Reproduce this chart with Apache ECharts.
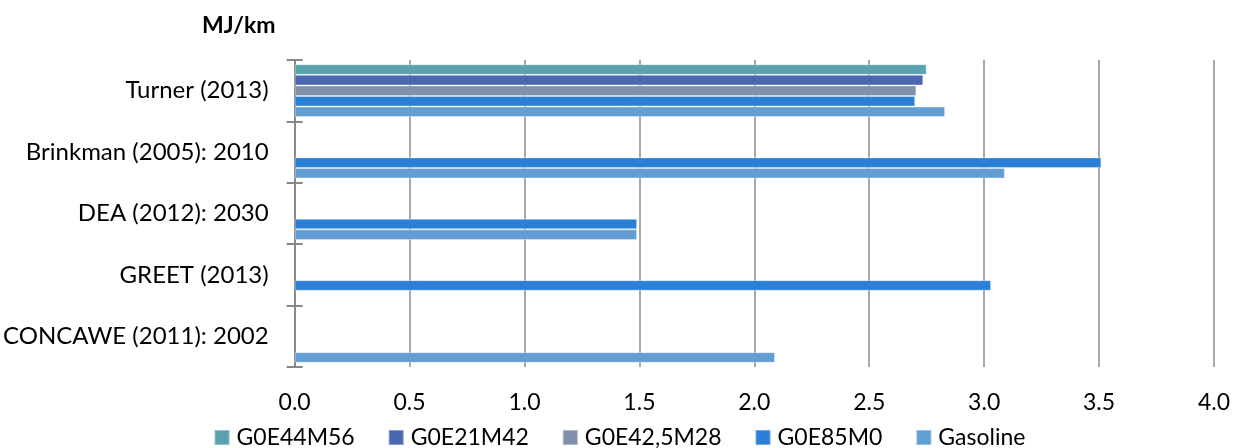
<!DOCTYPE html>
<html><head><meta charset="utf-8">
<script src="https://cdn.jsdelivr.net/npm/echarts@6/dist/echarts.min.js"></script>
<style>html,body{margin:0;padding:0;background:#fff}#c{width:1239px;height:448px}</style>
</head><body><div id="c"></div>
<script>
const categories = ['Turner (2013)', 'Brinkman (2005): 2010', 'DEA (2012): 2030', 'GREET (2013)', 'CONCAWE (2011): 2002'];
const seriesNames = ['G0E44M56', 'G0E21M42', 'G0E42,5M28', 'G0E85M0', 'Gasoline'];
const G0E44M56 = [2.75, null, null, null, null];
const G0E21M42 = [2.735, null, null, null, null];
const G0E42_5M28 = [2.705, null, null, null, null];
const G0E85M0 = [2.70, 3.51, 1.49, 3.03, null];
const Gasoline = [2.83, 3.09, 1.49, null, 2.09];
const xTicks = [0, 0.5, 1.0, 1.5, 2.0, 2.5, 3.0, 3.5, 4.0];
const colors = ['#5AA2AE', '#4A67B0', '#8191A9', '#2B7FD7', '#629ED3'];
const values = [G0E44M56, G0E21M42, G0E42_5M28, G0E85M0, Gasoline];
const FONT = 'Lato';

const chart = echarts.init(document.getElementById('c'), null, {renderer: 'canvas'});
chart.setOption({
  animation: false,
  color: colors,
  title: {
    text: 'MJ/km', left: 197, top: 9,
    textStyle: {fontFamily: FONT, fontWeight: 'bold', fontSize: 23, color: '#000'}
  },
  legend: {
    data: seriesNames, left: 'center', top: 421,
    itemWidth: 15, itemHeight: 15, itemGap: 33, icon: 'rect',
    textStyle: {fontFamily: FONT, fontSize: 23, color: '#000', padding: [0, 0, 0, 2]}
  },
  grid: {left: 294, right: 25, top: 60, bottom: 81, containLabel: false},
  xAxis: {
    type: 'value', min: 0, max: 4, interval: 0.5,
    axisLine: {show: false}, axisTick: {show: false},
    splitLine: {show: true, lineStyle: {color: '#8c8c8c', width: 1.5}},
    axisLabel: {
      margin: 24, fontFamily: FONT, fontSize: 23, color: '#000',
      formatter: v => xTicks.includes(v) ? v.toFixed(1) : ''
    }
  },
  yAxis: [{
    type: 'category', data: categories, inverse: true,
    axisLine: {show: true, lineStyle: {color: '#888', width: 2}},
    axisTick: {show: true, length: 8, lineStyle: {color: '#888', width: 2}},
    axisLabel: {margin: 26, fontFamily: FONT, fontSize: 24, color: '#000'}
  }, {
    type: 'category', data: categories, inverse: true, position: 'left',
    axisLine: {show: false},
    axisTick: {show: true, inside: true, length: 8, lineStyle: {color: '#888', width: 2}},
    axisLabel: {show: false}
  }],
  series: seriesNames.map((n, i) => ({
    name: n, type: 'bar', data: values[i],
    barGap: '0%', barCategoryGap: '14%',
    itemStyle: {color: colors[i], borderColor: 'rgba(255,255,255,0.35)', borderWidth: 1}
  }))
});
</script></body></html>
